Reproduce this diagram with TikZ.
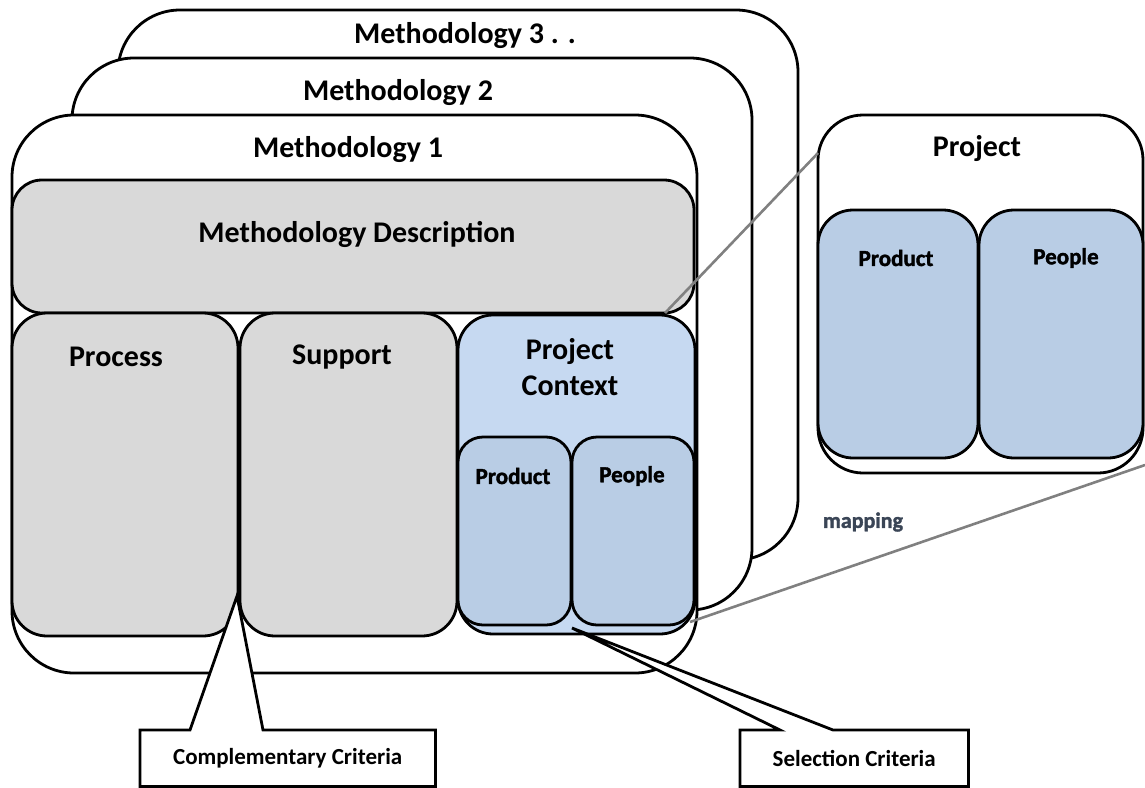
\documentclass[tikz,border=0pt]{standalone}
\usepackage{fontspec}
\setmainfont{Carlito}
\newfontfamily\heavyfont{Carlito Bold}[FakeBold=1.6]
\usetikzlibrary{calc}

\definecolor{boxgray}{HTML}{D9D9D9}
\definecolor{ctxblue}{HTML}{C6D9F1}
\definecolor{innerblue}{HTML}{B9CDE5}
\definecolor{linkgray}{HTML}{808080}
\definecolor{maptext}{HTML}{3A4556}

\begin{document}
\begin{tikzpicture}[x=1pt,y=-1pt,
  box/.style={draw=black, line width=2.8pt, anchor=north west,
              inner sep=0pt, outer sep=0pt},
  frame/.style={box, fill=white, rounded corners=62pt},
  graybox/.style={box, fill=boxgray, rounded corners=#1},
  ctxbox/.style={box, fill=ctxblue, rounded corners=35pt},
  innerbox/.style={box, fill=innerblue, rounded corners=#1},
  projbox/.style={box, fill=white, rounded corners=45pt},
  title/.style={font=\bfseries\fontsize{30}{34}\selectfont, inner sep=0pt},
  subtitle/.style={font=\heavyfont\fontsize{23}{26}\selectfont, inner sep=0pt},
  calltext/.style={font=\bfseries\fontsize{23}{26}\selectfont, inner sep=0pt},
  link/.style={draw=linkgray, line width=2.6pt},
  callout/.style={draw=black, line width=2.8pt, fill=white, line join=miter},
]
\useasboundingbox (0,0) rectangle (1145,787);

% stacked methodology frames, back to front
\node[frame, minimum width=680pt, minimum height=550pt] (m3) at (118,10) {};
\node[frame, minimum width=680pt, minimum height=552pt] (m2) at (72,58) {};
\node[frame, minimum width=685pt, minimum height=558pt] (m1) at (12,115) {};

\node[title] (m3t) at (465,36) {Methodology 3 . .};
\node[title] (m2t) at (398,93) {Methodology 2};
\node[title] (m1t) at (348,150) {Methodology 1};

% contents of methodology 1
\node[graybox=30pt, minimum width=682pt, minimum height=133pt] (desc) at (12,180) {};
\node[title] (desct) at (357,234) {Methodology Description};

\node[graybox=35pt, minimum width=226pt, minimum height=323pt] (proc) at (12,313) {};
\node[title] (proct) at (116,357) {Process};
\node[graybox=35pt, minimum width=217pt, minimum height=323pt] (supp) at (240,313) {};
\node[title] (suppt) at (342,357) {Support};

\node[ctxbox, minimum width=237pt, minimum height=319pt] (ctx) at (458,315) {};
\node[title, align=center] (ctxt) at (570,367) {Project\\[2pt]Context};

\node[innerbox=25pt, minimum width=113pt, minimum height=188pt] (prod) at (458,437) {};
\node[subtitle] (prodt) at (513,476) {Product};
\node[innerbox=25pt, minimum width=122pt, minimum height=188pt] (peop) at (572,437) {};
\node[subtitle] (peopt) at (632,476) {People};

% project on the right
\node[projbox, minimum width=325pt, minimum height=358pt] (proj) at (818,115) {};
\node[title] (projt) at (977,149) {Project};
\node[innerbox=35pt, minimum width=160pt, minimum height=248pt] (pprod) at (818,210) {};
\node[subtitle] (pprodt) at (896,258) {Product};
\node[innerbox=35pt, minimum width=164pt, minimum height=248pt] (ppeop) at (979,210) {};
\node[subtitle] (ppeopt) at (1066,258) {People};

% mapping links between the context and the project
\coordinate (ctxTop) at ($(ctx.north east)+(-30,-2)$);
\coordinate (projTop) at ($(proj.north west)+(0,38)$);
\coordinate (ctxBot) at ($(peop.south east)+(-4,-3)$);
\coordinate (projBot) at ($(proj.south east)+(2,-8)$);
\draw[link] (ctxTop) -- (projTop);
\draw[link] (ctxBot) -- (projBot);
\node[font=\heavyfont\fontsize{22}{24}\selectfont, text=maptext, inner sep=0pt] (map) at (863,522) {mapping};

% callouts
\node[minimum width=295pt, minimum height=56pt, inner sep=0pt, anchor=north west] (cc) at (140,730) {};
\coordinate (ccTip) at (237,596);
\draw[callout] (cc.north west) -- ($(cc.north west)+(50,0)$) -- (ccTip)
  -- ($(cc.north west)+(123,0)$) -- (cc.north east) -- (cc.south east)
  -- (cc.south west) -- cycle;
\node[calltext] (cct) at (cc.center) {Complementary Criteria};

\node[minimum width=228pt, minimum height=56pt, inner sep=0pt, anchor=north west] (sc) at (740,730) {};
\coordinate (scTip) at (572,628);
\draw[callout] (sc.north west) -- ($(sc.north west)+(40,0)$) -- (scTip)
  -- ($(sc.north west)+(93,0)$) -- (sc.north east) -- (sc.south east)
  -- (sc.south west) -- cycle;
\node[calltext] (sct) at (sc.center) {Selection Criteria};
\end{tikzpicture}
\end{document}
